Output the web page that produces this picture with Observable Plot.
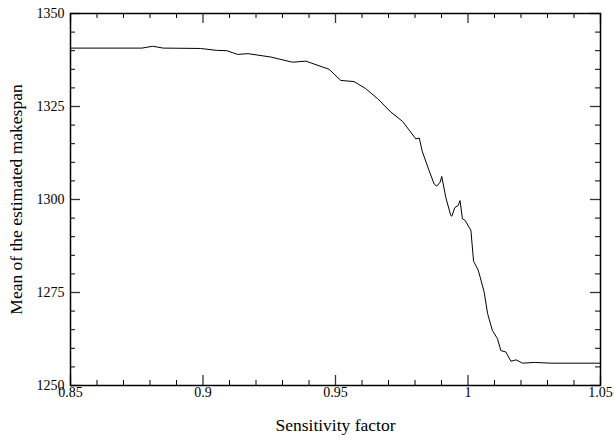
<!DOCTYPE html>
<html>
<head>
<meta charset="utf-8">
<script src="https://cdn.jsdelivr.net/npm/d3@7"></script>
<script src="https://cdn.jsdelivr.net/npm/@observablehq/plot@0.6"></script>
<style>
  html, body { margin: 0; padding: 0; background: white; }
</style>
</head>
<body>
<div id="chart"></div>
<script>
const sensitivity = [0.85, 0.877, 0.881, 0.885, 0.899, 0.905, 0.909, 0.913, 0.917, 0.9256, 0.9338, 0.9388, 0.9476, 0.952, 0.957, 0.9614, 0.9659, 0.9709, 0.9753, 0.9803, 0.9816, 0.9828, 0.9853, 0.9872, 0.9882, 0.9895, 0.9901, 0.9916, 0.9935, 0.9939, 0.995, 0.9963, 0.997, 0.9979, 0.9989, 1.0011, 1.0021, 1.0038, 1.0046, 1.0061, 1.0074, 1.0092, 1.0111, 1.0124, 1.0143, 1.0162, 1.0181, 1.0206, 1.025, 1.0313, 1.05];
const makespan = [1340.7, 1340.7, 1341.2, 1340.7, 1340.6, 1340.1, 1340.0, 1339.0, 1339.2, 1338.3, 1336.9, 1337.2, 1335.0, 1332.0, 1331.7, 1329.8, 1327.1, 1323.5, 1321.0, 1316.3, 1316.5, 1312.8, 1307.8, 1304.2, 1303.6, 1304.7, 1306.2, 1300.6, 1295.7, 1295.5, 1297.8, 1298.4, 1299.7, 1294.8, 1294.4, 1291.7, 1283.4, 1281.1, 1279.1, 1275.1, 1269.3, 1264.8, 1262.6, 1259.4, 1259.0, 1256.5, 1256.9, 1256.0, 1256.2, 1256.0, 1256.0];

const xMajorTicks = [0.85, 0.9, 0.95, 1, 1.05];
const xMinorTicks = [0.86, 0.87, 0.88, 0.89, 0.91, 0.92, 0.93, 0.94, 0.96, 0.97, 0.98, 0.99, 1.01, 1.02, 1.03, 1.04];
const yMajorTicks = [1250, 1275, 1300, 1325, 1350];
const yMinorTicks = [1255, 1260, 1265, 1270, 1280, 1285, 1290, 1295, 1305, 1310, 1315, 1320, 1330, 1335, 1340, 1345];

const xLabel = "Sensitivity factor";
const yLabel = "Mean of the estimated makespan";

const data = sensitivity.map((x, i) => ({x, y: makespan[i]}));

const W = 614, H = 441, ML = 70, MR = 14, MT = 13, MB = 56;
const FW = W - ML - MR, FH = H - MT - MB;

// inward ticks on all four sides (minor and major)
const tickMarks = [];
for (const [vals, len, col, sw] of [[xMinorTicks, 5, "black", 1], [xMajorTicks, 10, "#333", 1.3]]) {
  tickMarks.push(Plot.ruleX(vals, {x: d => d, insetTop: FH - len, stroke: col, strokeWidth: sw}));
  tickMarks.push(Plot.ruleX(vals, {x: d => d, insetBottom: FH - len, stroke: col, strokeWidth: sw}));
}
for (const [vals, len, col, sw] of [[yMinorTicks, 5, "black", 1], [yMajorTicks, 10, "#333", 1.3]]) {
  tickMarks.push(Plot.ruleY(vals, {y: d => d, insetRight: FW - len, stroke: col, strokeWidth: sw}));
  tickMarks.push(Plot.ruleY(vals, {y: d => d, insetLeft: FW - len, stroke: col, strokeWidth: sw}));
}

const chart = Plot.plot({
  width: W,
  height: H,
  marginLeft: ML,
  marginRight: MR,
  marginTop: MT,
  marginBottom: MB,
  style: {fontFamily: "'Liberation Serif', 'Times New Roman', serif", fontSize: "14px", background: "white", color: "black"},
  x: {domain: [0.85, 1.05], axis: null},
  y: {domain: [1250, 1350], axis: null},
  marks: [
    ...tickMarks,
    Plot.line(data, {x: "x", y: "y", stroke: "black", strokeWidth: 1}),
    Plot.frame({stroke: "black", strokeWidth: 1.5}),
    Plot.text(xMajorTicks, {x: d => d, frameAnchor: "bottom", dy: 2, lineAnchor: "top", text: d => String(d), fill: "black"}),
    Plot.text(yMajorTicks, {y: d => d, frameAnchor: "left", dx: -6, textAnchor: "end", lineAnchor: "middle", text: d => String(d), fill: "black"}),
    Plot.text([xLabel], {frameAnchor: "bottom", dy: 40, textAnchor: "middle", lineAnchor: "middle", text: d => d, fontSize: 17.5, fill: "black"}),
    Plot.text([yLabel], {frameAnchor: "left", dx: -54, rotate: -90, textAnchor: "middle", lineAnchor: "middle", text: d => d, fontSize: 17.5, fill: "black"})
  ]
});
document.getElementById("chart").appendChild(chart);
</script>
</body>
</html>
